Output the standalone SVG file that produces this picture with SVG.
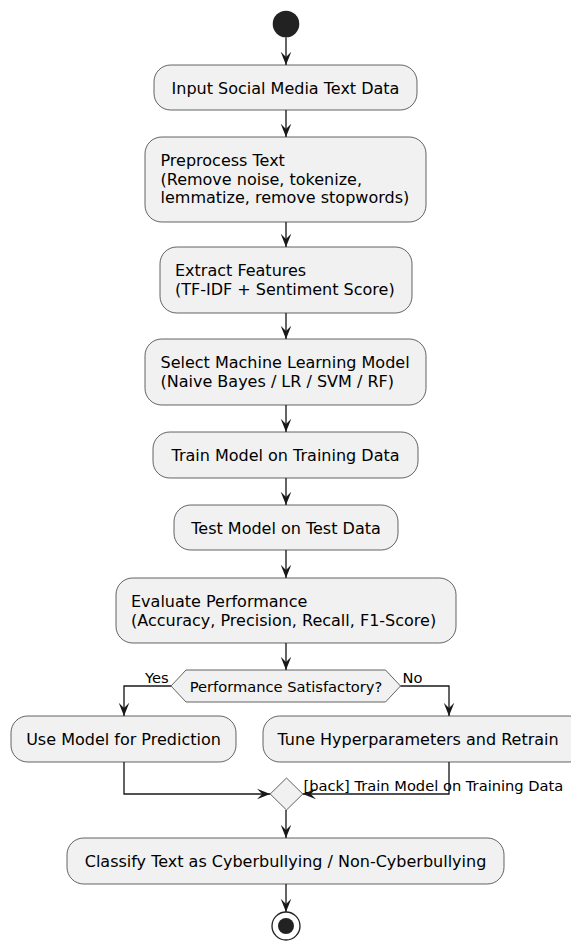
<svg xmlns="http://www.w3.org/2000/svg" width="571" height="944" viewBox="0 0 571 944">
<style>
.box{fill:#F1F1F1;stroke:#181818;stroke-width:0.67}
.t{font-family:"DejaVu Sans",Verdana,sans-serif;font-size:16px;fill:#000}
.s{font-family:"DejaVu Sans",Verdana,sans-serif;font-size:14.67px;fill:#000}
.c{text-anchor:middle}
.ln{fill:none;stroke:#181818;stroke-width:1.33}
</style>
<defs>
<marker id="ah" viewBox="0 0 14 12" refX="13.3" refY="6" markerWidth="14" markerHeight="12" markerUnits="userSpaceOnUse" orient="auto">
<path d="M0,0.7 L13.3,6 L0,11.3 L5.3,6 Z" fill="#181818"/>
</marker>
</defs>
<rect width="571" height="944" fill="#FFFFFF"/>
<g id="start"><circle cx="286" cy="24" r="13.3" fill="#222222"/></g>
<g id="n1"><rect class="box" x="154" y="65" width="263" height="45" rx="16.7"/><text class="t c" x="285.5" y="93.5">Input Social Media Text Data</text></g>
<g id="n2"><rect class="box" x="145" y="137" width="281" height="85" rx="16.7"/><text class="t" x="160.5" y="166">Preprocess Text</text><text class="t" x="160.5" y="184.6">(Remove noise, tokenize,</text><text class="t" x="160.5" y="203.2">lemmatize, remove stopwords)</text></g>
<g id="n3"><rect class="box" x="160" y="247" width="252" height="66" rx="16.7"/><text class="t" x="175" y="276">Extract Features</text><text class="t" x="175" y="294.8">(TF-IDF + Sentiment Score)</text></g>
<g id="n4"><rect class="box" x="145" y="339" width="281" height="66" rx="16.7"/><text class="t" x="160.5" y="368">Select Machine Learning Model</text><text class="t" x="160.5" y="386.8">(Naive Bayes / LR / SVM / RF)</text></g>
<g id="n5"><rect class="box" x="153" y="432" width="265" height="46" rx="16.7"/><text class="t c" x="285.5" y="461">Train Model on Training Data</text></g>
<g id="n6"><rect class="box" x="174" y="505" width="224" height="45" rx="16.7"/><text class="t c" x="286" y="533.5">Test Model on Test Data</text></g>
<g id="n7"><rect class="box" x="116" y="578" width="340" height="65" rx="16.7"/><text class="t" x="131" y="607">Evaluate Performance</text><text class="t" x="131" y="625.8">(Accuracy, Precision, Recall, F1-Score)</text></g>
<g id="d1"><polygon class="box" points="171,686 186,670 385.5,670 400.5,686 385.5,702 186,702"/><text class="s c" x="286" y="691.5">Performance Satisfactory?</text></g>
<g id="n8"><rect class="box" x="11" y="716" width="225" height="46" rx="16.7"/><text class="t c" x="123.5" y="744.5">Use Model for Prediction</text></g>
<g id="n9"><rect class="box" x="263" y="716" width="323" height="46" rx="16.7"/><text class="t" x="277.5" y="744.5">Tune Hyperparameters and Retrain</text></g>
<g id="m1"><polygon class="box" points="286.5,778 302.8,794 286.5,810 270.2,794"/></g>
<g id="n10"><rect class="box" x="67" y="838" width="437" height="46" rx="16.7"/><text class="t c" x="285.5" y="866.5">Classify Text as Cyberbullying / Non-Cyberbullying</text></g>
<g id="end"><circle cx="286" cy="926" r="14" fill="none" stroke="#222222" stroke-width="1.33"/><circle cx="286" cy="926" r="8" fill="#222222"/></g>
<g id="connectors">
<path class="ln" d="M286,37.3 V65" marker-end="url(#ah)"/>
<path class="ln" d="M286,110 V137" marker-end="url(#ah)"/>
<path class="ln" d="M286,222 V247" marker-end="url(#ah)"/>
<path class="ln" d="M286,313 V339" marker-end="url(#ah)"/>
<path class="ln" d="M286,405 V432" marker-end="url(#ah)"/>
<path class="ln" d="M286,478 V505" marker-end="url(#ah)"/>
<path class="ln" d="M286,550 V578" marker-end="url(#ah)"/>
<path class="ln" d="M286,643 V670" marker-end="url(#ah)"/>
<path class="ln" d="M171,686 H124 V716" marker-end="url(#ah)"/>
<path class="ln" d="M400.5,686 H449 V716" marker-end="url(#ah)"/>
<path class="ln" d="M124,762 V794 H270.2" marker-end="url(#ah)"/>
<path class="ln" d="M449,762 V794 H302.8" marker-end="url(#ah)"/>
<path class="ln" d="M286,810 V838" marker-end="url(#ah)"/>
<path class="ln" d="M286,884 V912" marker-end="url(#ah)"/>
<text class="s" x="145" y="683">Yes</text>
<text class="s" x="402.5" y="683">No</text>
<text class="s" x="303.5" y="791">[back] Train Model on Training Data</text>
</g>
</svg>
